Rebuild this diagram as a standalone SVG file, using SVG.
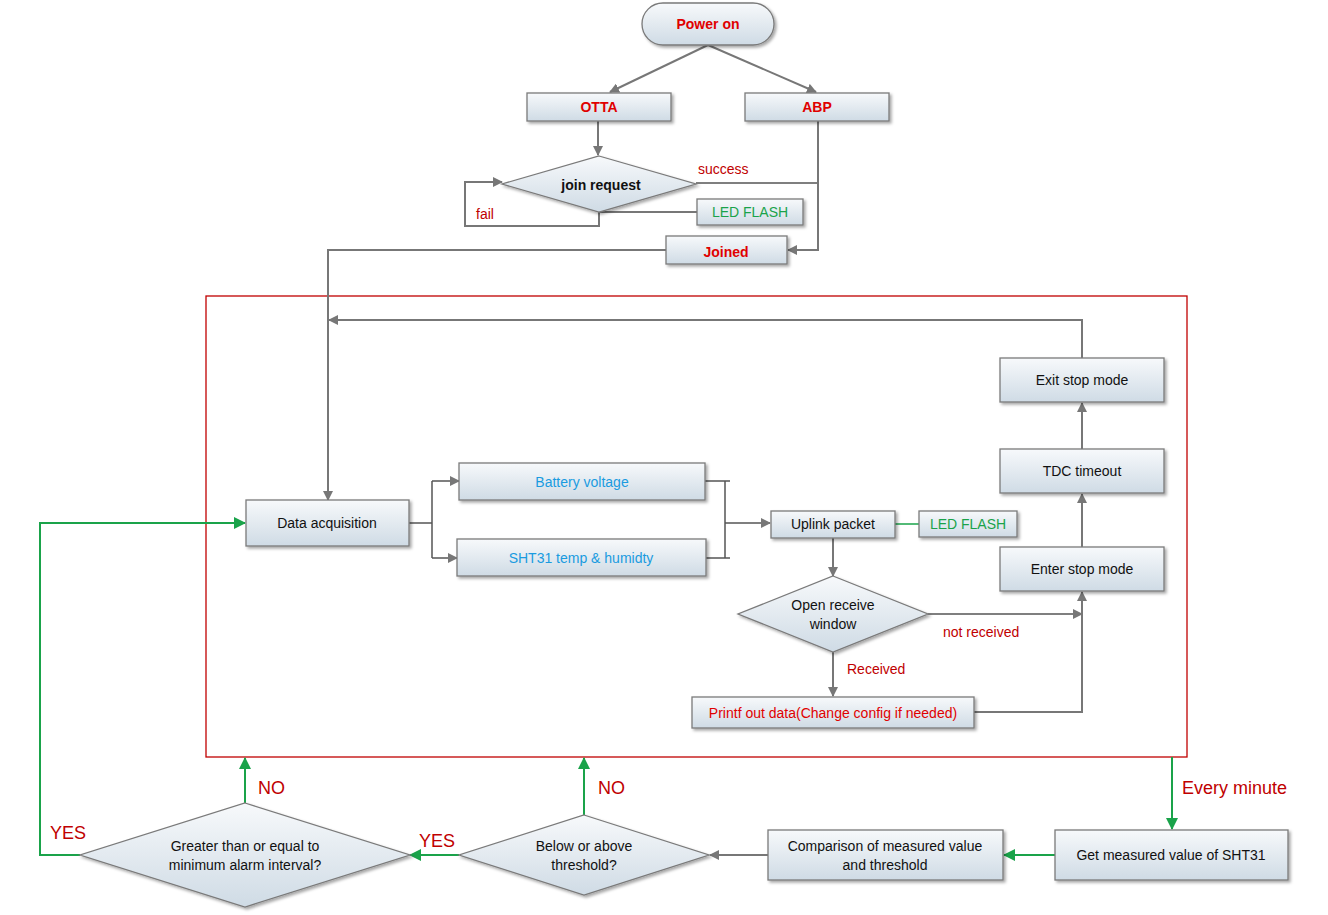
<svg xmlns="http://www.w3.org/2000/svg" width="1328" height="915" viewBox="0 0 1328 915">
<defs>
<linearGradient id="g" x1="0" y1="0" x2="0" y2="1"><stop offset="0" stop-color="#f7f9fb"/><stop offset="1" stop-color="#cfdbe5"/></linearGradient>
<filter id="sh" x="-10%" y="-10%" width="130%" height="140%"><feDropShadow dx="2" dy="2" stdDeviation="1.5" flood-color="#000" flood-opacity="0.35"/></filter>
<marker id="ag" markerWidth="10" markerHeight="10" refX="9" refY="5" orient="auto" markerUnits="userSpaceOnUse"><path d="M0,0 L10,5 L0,10 z" fill="#777"/></marker>
<marker id="an" markerWidth="12" markerHeight="12" refX="11" refY="6" orient="auto" markerUnits="userSpaceOnUse"><path d="M0,0 L12,6 L0,12 z" fill="#1aa34a"/></marker>
</defs>
<style>
.b{fill:url(#g);stroke:#7a7a7a;stroke-width:1.3;filter:url(#sh)}
.t{font-family:"Liberation Sans",Arial,sans-serif;font-size:14px;text-anchor:middle;fill:#111}
.r{fill:#e00000;font-weight:bold}
.c{stroke:#777;stroke-width:2;fill:none}
.k{stroke:#555;stroke-width:1.5;fill:none}
.gl{stroke:#1aa34a;stroke-width:2;fill:none}
.lab{font-family:"Liberation Sans",Arial,sans-serif;font-size:14px;fill:#c00000}
.big{font-family:"Liberation Sans",Arial,sans-serif;font-size:18px;fill:#c00000}
</style>
<rect x="206" y="296" width="981" height="461" fill="none" stroke="#c00000" stroke-width="1.3"/>
<g id="connectors">
<path class="c" d="M708,45 L610,92" marker-end="url(#ag)"/>
<path class="c" d="M708,45 L816,92" marker-end="url(#ag)"/>
<path class="c" d="M598,121 L598,155" marker-end="url(#ag)"/>
<path class="k" d="M696,183 L818,183"/>
<path class="c" d="M818,121 L818,250 L788,250" marker-end="url(#ag)"/>
<path class="c" d="M599,212 L599,226 L465,226 L465,182 L502,182" marker-end="url(#ag)"/>
<path class="c" d="M599,212 L697,212"/>
<path class="c" d="M666,250 L328,250 L328,500" marker-end="url(#ag)"/>
<path class="c" d="M1082,358 L1082,320 L329,320" marker-end="url(#ag)"/>
<path class="c" d="M1082,449 L1082,403" marker-end="url(#ag)"/>
<path class="c" d="M1082,547 L1082,494" marker-end="url(#ag)"/>
<path class="k" d="M409,523 L432,523 M432,481 L432,558"/>
<path class="k" d="M432,481 L459,481" marker-end="url(#ag)"/>
<path class="k" d="M432,558 L457,558" marker-end="url(#ag)"/>
<path class="k" d="M705,481 L730,481 M706,558 L730,558 M725,481 L725,558"/>
<path class="k" d="M725,523 L770,523" marker-end="url(#ag)"/>
<path d="M895,524 L919,524" stroke="#1aa34a" stroke-width="1.5"/>
<path class="c" d="M833,538 L833,576" marker-end="url(#ag)"/>
<path class="k" d="M928,614 L1082,614" marker-end="url(#ag)"/>
<path class="c" d="M833,652 L833,696" marker-end="url(#ag)"/>
<path class="c" d="M974,712 L1082,712 L1082,592" marker-end="url(#ag)"/>
<path class="gl" d="M1172,757 L1172,829" marker-end="url(#an)"/>
<path class="gl" d="M1055,855 L1004,855" marker-end="url(#an)"/>
<path class="c" d="M768,855 L710,855" marker-end="url(#ag)"/>
<path class="gl" d="M584,815 L584,758" marker-end="url(#an)"/>
<path class="gl" d="M459,855 L410,855" marker-end="url(#an)"/>
<path class="gl" d="M245,803 L245,758" marker-end="url(#an)"/>
<path class="gl" d="M80,855 L40,855 L40,523 L245,523" marker-end="url(#an)"/>
</g>
<g id="labels">
<text class="lab" x="698" y="174">success</text>
<text class="lab" x="476" y="219">fail</text>
<text class="lab" x="943" y="637">not received</text>
<text class="lab" x="847" y="674">Received</text>
<text class="big" x="1182" y="794">Every minute</text>
<text class="big" x="258" y="794">NO</text>
<text class="big" x="598" y="794">NO</text>
<text class="big" x="419" y="847">YES</text>
<text class="big" x="50" y="839">YES</text>
</g>
<g id="power"><rect class="b" x="642" y="3" width="132" height="42" rx="21"/><text class="t r" x="708" y="29" font-size="13">Power on</text></g>
<g id="otta"><rect class="b" x="527" y="93" width="144" height="28"/><text class="t r" x="599" y="112">OTTA</text></g>
<g id="abp"><rect class="b" x="745" y="93" width="144" height="28"/><text class="t r" x="817" y="112">ABP</text></g>
<g id="join"><polygon class="b" points="599,156 696,184 599,212 502,184"/><text class="t" x="601" y="190" font-weight="bold" font-size="13">join request</text></g>
<g id="led1"><rect class="b" x="697" y="199" width="106" height="26"/><text class="t" x="750" y="217" fill="#1aa34a" style="fill:#1aa34a">LED FLASH</text></g>
<g id="joined"><rect class="b" x="666" y="236" width="121" height="28"/><text class="t r" x="726" y="257" font-size="18">Joined</text></g>
<g id="exit"><rect class="b" x="1000" y="358" width="164" height="44"/><text class="t" x="1082" y="385">Exit stop mode</text></g>
<g id="tdc"><rect class="b" x="1000" y="449" width="164" height="44"/><text class="t" x="1082" y="476">TDC timeout</text></g>
<g id="enter"><rect class="b" x="1000" y="547" width="164" height="44"/><text class="t" x="1082" y="574">Enter stop mode</text></g>
<g id="data"><rect class="b" x="246" y="500" width="163" height="46"/><text class="t" x="327" y="528">Data acquisition</text></g>
<g id="battery"><rect class="b" x="459" y="463" width="246" height="37"/><text class="t" x="582" y="487" style="fill:#1a9be0">Battery voltage</text></g>
<g id="sht"><rect class="b" x="457" y="539" width="249" height="37"/><text class="t" x="581" y="563" style="fill:#1a9be0">SHT31 temp &amp; humidty</text></g>
<g id="uplink"><rect class="b" x="771" y="511" width="124" height="27"/><text class="t" x="833" y="529">Uplink packet</text></g>
<g id="led2"><rect class="b" x="919" y="511" width="98" height="26"/><text class="t" x="968" y="529" style="fill:#1aa34a">LED FLASH</text></g>
<g id="open"><polygon class="b" points="833,576 928,614 833,652 738,614"/><text class="t" x="833" y="610">Open receive</text><text class="t" x="833" y="629">window</text></g>
<g id="printf"><rect class="b" x="692" y="697" width="282" height="31"/><text class="t" x="833" y="718" style="fill:#e00000">Printf out data(Change config if needed)</text></g>
<g id="get"><rect class="b" x="1055" y="830" width="233" height="50"/><text class="t" x="1171" y="860">Get measured value of SHT31</text></g>
<g id="compare"><rect class="b" x="768" y="830" width="235" height="50"/><text class="t" x="885" y="851">Comparison of measured value</text><text class="t" x="885" y="870">and threshold</text></g>
<g id="below"><polygon class="b" points="584,815 709,855 584,895 459,855"/><text class="t" x="584" y="851">Below or above</text><text class="t" x="584" y="870">threshold?</text></g>
<g id="greater"><polygon class="b" points="245,803 410,855 245,907 80,855"/><text class="t" x="245" y="851">Greater than or equal to</text><text class="t" x="245" y="870">minimum alarm interval?</text></g>
</svg>
